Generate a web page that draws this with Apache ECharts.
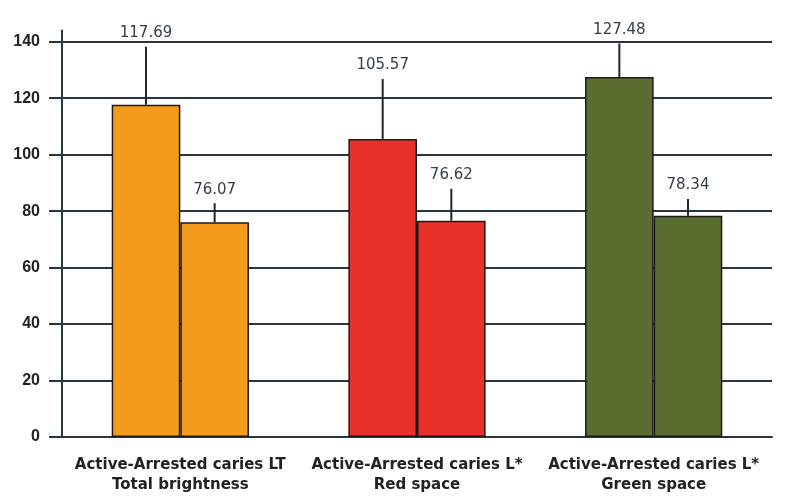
<!DOCTYPE html>
<html>
<head>
<meta charset="utf-8">
<script src="https://cdn.jsdelivr.net/npm/echarts@6/dist/echarts.min.js"></script>
<style>html,body{margin:0;padding:0;background:#fff;}#c{width:786px;height:499px;}</style>
</head>
<body>
<div id="c"></div>
<script>
var categories = ['Active-Arrested caries LT\nTotal brightness', 'Active-Arrested caries L*\nRed space', 'Active-Arrested caries L*\nGreen space'];
var activeValues = [117.69, 105.57, 127.48];
var arrestedValues = [76.07, 76.62, 78.34];
var activeErrTop = [138.2, 126.8, 139.4];
var arrestedErrTop = [82.8, 87.9, 84.3];
var groupColors = ['#f49b1e', '#e9312a', '#5b6e2f'];
var yTicks = [0, 20, 40, 60, 80, 100, 120, 140];

var gap = 0.42;
function barData(vals) {
  return vals.map(function (v, i) { return { value: v, itemStyle: { color: groupColors[i] } }; });
}
var errData = [];
activeValues.forEach(function (v, i) { errData.push([i, v, activeErrTop[i], 0]); });
arrestedValues.forEach(function (v, i) { errData.push([i, v, arrestedErrTop[i], 1]); });

var chart = echarts.init(document.getElementById('c'));
chart.setOption({
  backgroundColor: '#fff',
  animation: false,
  grid: { left: 62, right: 14, top: 41.7, bottom: 62 },
  xAxis: {
    type: 'category',
    data: categories,
    axisLine: { lineStyle: { color: '#2b3540', width: 2 } },
    axisTick: { length: 13, lineStyle: { color: '#2b3540', width: 2 }, interval: 0 },
    axisLabel: { color: '#222', fontSize: 15, fontWeight: 'bold', fontFamily: '"DejaVu Sans", Verdana, sans-serif', margin: 18, lineHeight: 20, interval: 0 }
  },
  yAxis: {
    type: 'value',
    min: yTicks[0], max: yTicks[yTicks.length - 1], interval: 20,
    axisLine: { show: true, lineStyle: { color: '#2b3540', width: 2 }, symbol: ['none', 'rect'], symbolSize: [2, 24] },
    axisTick: { show: true, length: 13, lineStyle: { color: '#2b3540', width: 2 } },
    axisLabel: { color: '#222', fontSize: 16, fontWeight: 'bold', fontFamily: 'Liberation Sans, Arial, sans-serif', margin: 22 },
    splitLine: { show: true, lineStyle: { color: '#2b3540', width: 2 } }
  },
  series: [
    { name: 'Active', type: 'bar', data: barData(activeValues), barGap: '0%', barCategoryGap: (gap * 100) + '%',
      itemStyle: { borderColor: '#1a1a1a', borderWidth: 1.5 } },
    { name: 'Arrested', type: 'bar', data: barData(arrestedValues), barGap: '0%', barCategoryGap: (gap * 100) + '%',
      itemStyle: { borderColor: '#1a1a1a', borderWidth: 1.5 } },
    { name: 'err', type: 'custom', data: errData, z: 5,
      renderItem: function (params, api) {
        var ci = api.value(0), v = api.value(1), top = api.value(2), si = api.value(3);
        var band = api.size([1, 0])[0];
        var bw = band * (1 - gap) / 2;
        var base = api.coord([ci, v]);
        var tp = api.coord([ci, top]);
        var x = base[0] + (si === 0 ? -bw / 2 : bw / 2);
        return { type: 'group', children: [
          { type: 'line', shape: { x1: x, y1: base[1], x2: x, y2: tp[1] }, style: { stroke: '#1e252c', lineWidth: 2 } },
          { type: 'text', style: { text: v.toFixed(2), x: x, y: tp[1] - 6, textAlign: 'center', textVerticalAlign: 'bottom',
            fill: '#33404a', font: '15px "DejaVu Sans", sans-serif' } }
        ] };
      }
    }
  ]
});
</script>
</body>
</html>
